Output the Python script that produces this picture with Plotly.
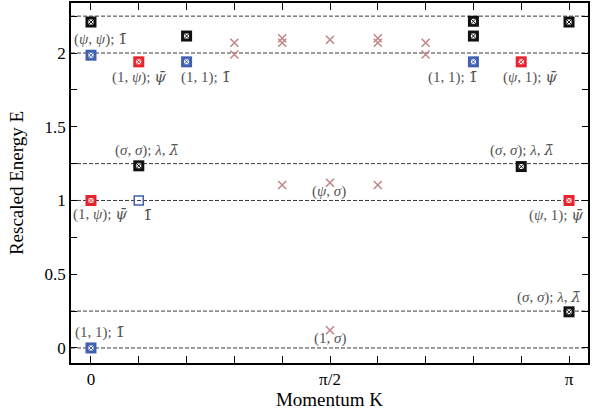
import numpy as np
import plotly.graph_objects as go

PI = np.pi
# momenta in units of pi, rescaled energies
black_k = [0.0, 0.2, 0.8, 0.8, 1.0, 0.1, 0.9, 1.0]
black_E = [2.21, 2.115, 2.215, 2.115, 2.21, 1.235, 1.23, 0.245]
red_k = [0.1, 0.9, 0.0, 1.0]
red_E = [1.94, 1.94, 1.0, 1.0]
blue_k = [0.0, 0.2, 0.8, 0.0]
blue_E = [1.985, 1.94, 1.94, 0.0]
blueopen_k = [0.1]
blueopen_E = [1.0]
cross_k = [0.3, 0.3, 0.4, 0.4, 0.5, 0.6, 0.6, 0.7, 0.7, 0.4, 0.5, 0.6, 0.5]
cross_E = [2.07, 1.99, 2.10, 2.07, 2.09, 2.10, 2.07, 2.07, 1.99, 1.105, 1.12, 1.105, 0.12]

ref_levels = [0.0, 0.25, 1.0, 1.25, 2.0, 2.25]

xtick_vals = [i / 10 for i in range(11)]
xtick_text = ["0", "", "", "", "", "π/2", "", "", "", "", "π"]
ytick_vals = [i * 0.25 for i in range(10)]
ytick_text = ["0", "", "0.5", "", "1", "", "1.5", "", "2", ""]

DV = "<span style='font-family:DejaVu Serif'>{}</span>"
bar1 = DV.format("1\u0304")
psibar = DV.format("<i>ψ\u0304</i>")
lam = "<i>λ</i>, " + DV.format("<i>λ\u0304</i>")
labels = [
    ("(<i>ψ</i>, <i>ψ</i>); " + bar1, -0.04, 2.092, "left"),
    ("(1, <i>ψ</i>); " + psibar, 0.1, 1.837, "center"),
    ("(1, 1); " + bar1, 0.24, 1.837, "center"),
    ("(1, 1); " + bar1, 0.757, 1.837, "center"),
    ("(<i>ψ</i>, 1); " + psibar, 0.918, 1.837, "center"),
    ("(<i>σ</i>, <i>σ</i>); " + lam, 0.117, 1.342, "center"),
    ("(1, <i>ψ</i>); " + psibar, 0.019, 0.905, "center"),
    (bar1, 0.119, 0.9, "center"),
    ("(<i>σ</i>, <i>σ</i>); " + lam, 0.902, 1.342, "center"),
    ("(<i>ψ</i>, 1); " + psibar, 0.973, 0.9, "center"),
    ("(<i>ψ</i>, <i>σ</i>)", 0.498, 1.064, "center"),
    ("(1, <i>σ</i>)", 0.5, 0.061, "center"),
    ("(<i>σ</i>, <i>σ</i>); " + lam, 0.958, 0.346, "center"),
    ("(1, 1); " + bar1, 0.019, 0.108, "center"),
]

SERIF = "Liberation Serif, Times New Roman, serif"

fig = go.Figure()

def boxed(ks, Es, color):
    xs = [PI * k for k in ks]
    fig.add_trace(go.Scatter(x=xs, y=Es, mode="markers", showlegend=False,
                             marker=dict(symbol="square", size=11, color=color,
                                         line=dict(width=0))))
    fig.add_trace(go.Scatter(x=xs, y=Es, mode="markers", showlegend=False,
                             marker=dict(symbol="square-x", size=6, color="white",
                                         line=dict(width=1, color=color))))

boxed(black_k, black_E, "#111111")
boxed(red_k, red_E, "#e8232c")
boxed(blue_k, blue_E, "#3f5fb0")
fig.add_trace(go.Scatter(x=[PI * k for k in blueopen_k], y=blueopen_E, mode="markers",
                         showlegend=False,
                         marker=dict(symbol="square-open", size=9, color="#3f5fb0",
                                     line=dict(width=1.5))))
fig.add_trace(go.Scatter(x=[PI * k for k in cross_k], y=cross_E, mode="markers",
                         showlegend=False,
                         marker=dict(symbol="x-thin-open", size=8, color="#c08585",
                                     line=dict(width=1.5, color="#c08585"))))

for lv in ref_levels:
    fig.add_shape(type="line", xref="paper", x0=0, x1=1, yref="y", y0=lv, y1=lv,
                  line=dict(color="#3a3a3a", width=1, dash="4px,2px"), layer="below")

for txt, kx, ey, anc in labels:
    fig.add_annotation(x=PI * kx, y=ey, text=txt, showarrow=False, xanchor=anc,
                       yanchor="middle", font=dict(family=SERIF, size=15, color="#555555"))

fig.update_layout(
    width=599, height=412,
    margin=dict(l=71, r=11, t=3, b=49),
    paper_bgcolor="white", plot_bgcolor="white",
    font=dict(family=SERIF, size=17, color="black"),
)
fig.update_xaxes(range=[-0.0418 * PI, 1.0397 * PI], tickmode="array",
                 tickvals=[PI * v for v in xtick_vals], ticktext=xtick_text,
                 tickfont=dict(family=SERIF, size=17, color="black"),
                 ticks="inside", ticklen=7, tickwidth=1, tickcolor="black",
                 showline=True, linecolor="black", linewidth=1.5, mirror="ticks",
                 showgrid=False, zeroline=False, automargin=False,
                 title=dict(text="Momentum K", font=dict(family=SERIF, size=19, color="black"),
                            standoff=0))
fig.update_yaxes(range=[-0.102, 2.339], tickmode="array",
                 tickvals=ytick_vals, ticktext=ytick_text,
                 tickfont=dict(family=SERIF, size=17, color="black"),
                 ticks="inside", ticklen=6, tickwidth=1, tickcolor="black",
                 showline=True, linecolor="black", linewidth=1.5, mirror="ticks",
                 showgrid=False, zeroline=False, automargin=False,
                 title=dict(text="Rescaled Energy E", font=dict(family=SERIF, size=19, color="black"),
                            standoff=16))

fig.write_html("out.html", config={"displayModeBar": False},
               post_script="document.body.style.margin='0px';document.body.style.overflow='hidden';")
